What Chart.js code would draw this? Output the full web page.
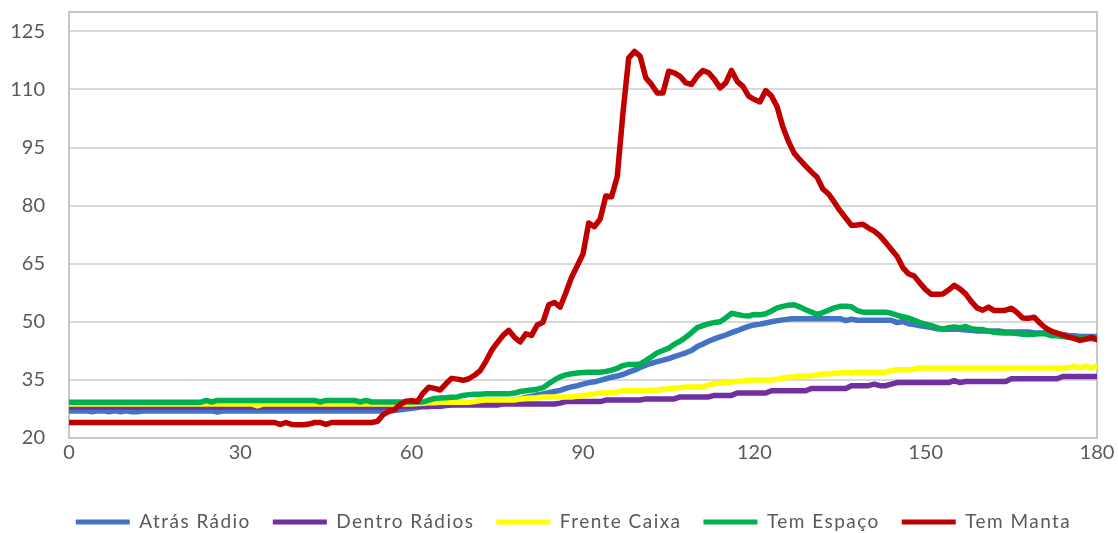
<!DOCTYPE html>
<html>
<head>
<meta charset="utf-8">
<script src="https://cdn.jsdelivr.net/npm/chart.js@4"></script>
<style>
  html, body { margin: 0; padding: 0; background: #ffffff; }
  #wrap { width: 1118px; height: 533px; }
</style>
</head>
<body>
<div id="wrap"><canvas id="chart" width="1118" height="533"></canvas></div>
<script>
// Sample times (minutes), one reading per minute
const minutes = Array.from({ length: 181 }, (_, i) => i);
const xTicks = [0, 30, 60, 90, 120, 150, 180];
const yTicks = [20, 35, 50, 65, 80, 95, 110, 125];
const seriesNames = ['Atrás Rádio', 'Dentro Rádios', 'Frente Caixa', 'Tem Espaço', 'Tem Manta'];
const seriesColors = ['#4472C4', '#7030A0', '#FFFF00', '#00B050', '#C00000'];

const atrasRadio = [
  27, 27, 27, 27, 26.8, 27, 27, 26.8, 27, 26.8,
  27, 26.8, 26.8, 27, 27, 27, 27, 27, 27, 27,
  27, 27, 27, 27, 27, 27, 26.7, 27, 27, 27,
  27, 27, 27, 27, 27, 27, 27, 27, 27, 27,
  27, 27, 27, 27, 27, 27, 27, 27, 27, 27,
  27, 27, 27, 27, 27, 27, 27, 27.1, 27.3, 27.5,
  27.7, 27.9, 28.1, 28.1, 28.2, 28.2, 28.4, 28.6, 28.7, 28.9,
  28.9, 28.9, 28.9, 29.0, 29.1, 29.3, 29.5, 29.6, 29.9, 30.1,
  30.5, 30.8, 31.1, 31.4, 31.7, 32.0, 32.3, 32.8, 33.2, 33.5,
  33.9, 34.3, 34.5, 34.9, 35.3, 35.7, 36.0, 36.4, 37.0, 37.5,
  38.2, 38.8, 39.3, 39.7, 40.1, 40.5, 41.0, 41.5, 42.0, 42.6,
  43.6, 44.3, 45.0, 45.6, 46.1, 46.6, 47.2, 47.7, 48.3, 48.8,
  49.2, 49.4, 49.7, 50.0, 50.3, 50.5, 50.7, 50.8, 50.8, 50.8,
  50.8, 50.8, 50.8, 50.8, 50.8, 50.8, 50.3, 50.7, 50.4, 50.4,
  50.4, 50.4, 50.4, 50.4, 50.4, 49.8, 50.1, 49.5, 49.3, 49.0,
  48.8, 48.5, 48.2, 48.1, 48.1, 48.1, 48.1, 47.9, 47.8, 47.6,
  47.6, 47.6, 47.6, 47.6, 47.4, 47.4, 47.4, 47.4, 47.4, 47.1,
  47.1, 47.1, 46.9, 46.8, 46.7, 46.5, 46.4, 46.2, 46.2, 46.2, 46.2
];

const dentroRadios = [
  28, 28, 28, 28, 28, 28, 28, 28, 28, 28,
  28, 28, 28, 28, 28, 28, 28, 28, 28, 28,
  28, 28, 28, 28, 28, 28, 28, 28, 28, 28,
  28, 28, 28, 28, 28, 28, 28, 28, 28, 28,
  28, 28, 28, 28, 28, 28, 28, 28, 28, 28,
  28, 28, 28, 28, 28, 28, 28.2, 28.2, 28.2, 28.2,
  28.2, 28.2, 28.2, 28.2, 28.2, 28.2, 28.5, 28.5, 28.5, 28.5,
  28.5, 28.5, 28.5, 28.5, 28.5, 28.5, 28.8, 28.8, 28.8, 28.8,
  28.8, 28.8, 28.8, 28.8, 28.8, 28.8, 29.0, 29.4, 29.4, 29.4,
  29.4, 29.4, 29.4, 29.4, 29.8, 29.8, 29.8, 29.8, 29.8, 29.8,
  29.8, 30.1, 30.1, 30.1, 30.1, 30.1, 30.1, 30.6, 30.6, 30.6,
  30.6, 30.6, 30.6, 31.0, 31.0, 31.0, 31.0, 31.6, 31.6, 31.6,
  31.6, 31.6, 31.6, 32.2, 32.2, 32.2, 32.2, 32.2, 32.2, 32.2,
  32.8, 32.8, 32.8, 32.8, 32.8, 32.8, 32.8, 33.5, 33.5, 33.5,
  33.5, 33.9, 33.5, 33.5, 33.9, 34.3, 34.3, 34.3, 34.3, 34.3,
  34.3, 34.3, 34.3, 34.3, 34.3, 34.8, 34.3, 34.6, 34.6, 34.6,
  34.6, 34.6, 34.6, 34.6, 34.6, 35.3, 35.3, 35.3, 35.3, 35.3,
  35.3, 35.3, 35.3, 35.3, 35.9, 35.9, 35.9, 35.9, 35.9, 35.9, 35.9
];

const frenteCaixa = [
  28.8, 28.8, 28.8, 28.8, 28.8, 28.8, 28.8, 28.8, 28.8, 28.8,
  28.8, 28.8, 28.8, 28.8, 28.8, 28.8, 28.8, 28.8, 28.8, 28.8,
  28.8, 28.8, 28.8, 28.8, 28.8, 28.8, 28.8, 28.8, 28.8, 28.8,
  28.8, 28.8, 28.8, 28.3, 28.8, 28.8, 28.8, 28.8, 28.8, 28.8,
  28.8, 28.8, 28.8, 28.8, 28.8, 28.8, 28.8, 28.8, 28.8, 28.8,
  28.8, 28.8, 28.8, 28.8, 28.8, 28.8, 28.8, 28.8, 28.8, 28.8,
  28.8, 28.9, 29.0, 29.1, 29.1, 29.2, 29.2, 29.2, 29.2, 29.2,
  29.2, 29.4, 29.7, 29.8, 29.8, 29.8, 29.8, 29.8, 29.8, 30.1,
  30.2, 30.3, 30.4, 30.6, 30.6, 30.6, 30.6, 30.6, 30.6, 30.8,
  31.0, 31.2, 31.4, 31.6, 31.7, 31.7, 31.9, 32.2, 32.2, 32.2,
  32.2, 32.2, 32.3, 32.4, 32.6, 32.7, 32.9, 33.0, 33.2, 33.2,
  33.2, 33.2, 33.7, 34.0, 34.2, 34.3, 34.5, 34.6, 34.7, 34.9,
  35.0, 35.0, 35.0, 35.0, 35.2, 35.5, 35.7, 35.8, 36.0, 36.0,
  36.1, 36.3, 36.5, 36.6, 36.7, 36.8, 36.9, 36.8, 37.0, 37.0,
  37.0, 37.0, 37.0, 37.0, 37.4, 37.6, 37.6, 37.6, 37.8, 38.1,
  38.1, 38.1, 38.1, 38.1, 38.1, 38.1, 38.1, 38.1, 38.1, 38.1,
  38.1, 38.1, 38.1, 38.1, 38.1, 38.1, 38.1, 38.1, 38.1, 38.1,
  38.1, 38.1, 38.1, 38.1, 38.1, 38.2, 38.5, 38.1, 38.5, 38.1, 38.6
];

const temEspaco = [
  29.2, 29.2, 29.2, 29.2, 29.2, 29.2, 29.2, 29.2, 29.2, 29.2,
  29.2, 29.2, 29.2, 29.2, 29.2, 29.2, 29.2, 29.2, 29.2, 29.2,
  29.2, 29.2, 29.2, 29.2, 29.7, 29.3, 29.7, 29.7, 29.7, 29.7,
  29.7, 29.7, 29.7, 29.7, 29.7, 29.7, 29.7, 29.7, 29.7, 29.7,
  29.7, 29.7, 29.7, 29.7, 29.3, 29.7, 29.7, 29.7, 29.7, 29.7,
  29.7, 29.3, 29.7, 29.3, 29.3, 29.3, 29.3, 29.3, 29.3, 29.3,
  29.3, 29.3, 29.3, 29.8, 30.2, 30.3, 30.4, 30.5, 30.6, 31.0,
  31.2, 31.3, 31.3, 31.4, 31.4, 31.4, 31.4, 31.4, 31.6, 32.0,
  32.2, 32.4, 32.6, 33.0, 34.0, 35.0, 35.8, 36.3, 36.6, 36.8,
  36.9, 37.0, 37.0, 37.0, 37.2, 37.5, 38.0, 38.7, 39.0, 39.0,
  39.1, 40.0, 41.0, 42.0, 42.6, 43.2, 44.2, 45.0, 46.0, 47.2,
  48.5, 49.0, 49.5, 49.8, 50.0, 51.0, 52.2, 51.9, 51.6, 51.5,
  51.9, 51.8, 52.1, 52.8, 53.6, 54.0, 54.3, 54.4, 53.8, 53.1,
  52.5, 51.9, 52.4, 53.0, 53.6, 54.0, 54.0, 53.9, 52.9, 52.5,
  52.5, 52.5, 52.5, 52.5, 52.2, 51.7, 51.3, 51.0, 50.4, 49.8,
  49.4, 49.0, 48.5, 48.1, 48.5, 48.7, 48.4, 48.8, 48.2, 48.0,
  48.0, 47.6, 47.3, 47.2, 47.1, 47.1, 47.0, 46.8, 46.7, 46.8,
  47.0, 46.9, 46.4, 46.4, 46.2, 46.0, 45.9, 45.8, 45.6, 45.6, 45.6
];

const temManta = [
  24, 24, 24, 24, 24, 24, 24, 24, 24, 24,
  24, 24, 24, 24, 24, 24, 24, 24, 24, 24,
  24, 24, 24, 24, 24, 24, 24, 24, 24, 24,
  24, 24, 24, 24, 24, 24, 24, 23.5, 24, 23.5,
  23.4, 23.4, 23.6, 24, 24, 23.5, 24, 24, 24, 24,
  24, 24, 24, 24, 24.3, 26.0, 26.9, 27.4, 28.6, 29.5,
  29.6, 29.4, 31.6, 33.1, 32.8, 32.4, 34.0, 35.4, 35.2, 34.9,
  35.3, 36.2, 37.4, 39.8, 42.6, 44.6, 46.5, 47.8, 46.0, 44.8,
  46.9, 46.5, 49.2, 49.9, 54.4, 55.0, 53.8, 57.5, 61.5, 64.5,
  67.5, 75.5, 74.6, 76.5, 82.5, 82.3, 87.5, 104.0, 118.1, 119.8,
  118.6, 113.0, 111.3, 109.1, 109.1, 114.7, 114.3, 113.4, 111.7, 111.3,
  113.4, 114.9, 114.3, 112.6, 110.4, 111.7, 114.9, 112.1, 110.8, 108.3,
  107.4, 106.8, 109.7, 108.3, 105.5, 100.3, 96.5, 93.5, 91.8, 90.2,
  88.7, 87.3, 84.3, 83.0, 80.9, 78.7, 76.8, 74.9, 75.0, 75.2,
  74.2, 73.4, 72.2, 70.5, 68.7, 66.9, 64.0, 62.4, 61.8, 60.0,
  58.3, 57.1, 57.1, 57.2, 58.2, 59.4, 58.5, 57.2, 55.2, 53.6,
  53.0, 53.8, 52.9, 52.9, 53.0, 53.5, 52.4, 51.0, 50.9, 51.2,
  49.7, 48.4, 47.6, 47.1, 46.6, 46.1, 45.7, 45.2, 45.5, 46.0, 45.4
];

const seriesValues = [atrasRadio, dentroRadios, frenteCaixa, temEspaco, temManta];

const textColor = '#595959';
const tickFont = { family: 'Lato', size: 20 };
const legendFont = { family: 'Lato', size: 19 };
const legendLetterSpacing = '1.45px';
const legendShiftX = 25;

// Draws the grey frame around the whole plot area
const plotFrame = {
  id: 'plotFrame',
  beforeDatasetsDraw(chart) {
    const { ctx, chartArea: a } = chart;
    ctx.save();
    ctx.strokeStyle = '#c8c8c8';
    ctx.lineWidth = 2;
    ctx.strokeRect(a.left, a.top, a.right - a.left, a.bottom - a.top);
    ctx.restore();
  }
};

// Wider letter spacing for the legend text, and legend centred under the plot
const legendSpacing = {
  id: 'legendSpacing',
  afterInit(chart) {
    const lg = chart.legend;
    if (!lg) return;
    ['fit', 'draw'].forEach((fn) => {
      const orig = lg[fn];
      lg[fn] = function (...args) {
        const ctx = this.ctx;
        const prev = ctx.letterSpacing;
        ctx.letterSpacing = legendLetterSpacing;
        const r = orig.apply(this, args);
        ctx.letterSpacing = prev || '0px';
        return r;
      };
    });
  },
  afterLayout(chart) {
    const lg = chart.legend;
    if (!lg) return;
    lg.left += legendShiftX;
    lg.right += legendShiftX;
  }
};

const datasets = seriesNames.map((name, i) => ({
  label: name,
  data: minutes.map((m, k) => ({ x: m, y: seriesValues[i][k] })),
  borderColor: seriesColors[i],
  backgroundColor: seriesColors[i],
  borderWidth: 5.5,
  pointRadius: 0,
  tension: 0,
  borderJoinStyle: 'round',
  borderCapStyle: 'round',
  order: seriesNames.length - i
}));

new Chart(document.getElementById('chart'), {
  type: 'line',
  data: { datasets },
  plugins: [plotFrame, legendSpacing],
  options: {
    responsive: false,
    animation: false,
    devicePixelRatio: 1,
    layout: { padding: { top: 12, right: 21, left: 0, bottom: -8.5 } },
    plugins: {
      tooltip: { enabled: false },
      legend: {
        position: 'bottom',
        labels: {
          font: legendFont,
          color: textColor,
          boxWidth: 54,
          boxHeight: 5,
          padding: 22,
          sort: (a, b) => a.datasetIndex - b.datasetIndex,
          generateLabels: (chart) =>
            Chart.defaults.plugins.legend.labels.generateLabels(chart).map((l) =>
              Object.assign(l, { lineWidth: 0, fillStyle: l.strokeStyle }))
        }
      }
    },
    scales: {
      x: {
        type: 'linear',
        min: 0,
        max: 180,
        afterBuildTicks: (s) => { s.ticks = xTicks.map((v) => ({ value: v })); },
        afterFit: (s) => { s.height = 52.5; s.paddingLeft = 0; s.paddingRight = 0; },
        grid: { display: false, drawTicks: false },
        border: { display: true, color: '#c8c8c8', width: 2 },
        ticks: { font: tickFont, color: textColor, padding: 3, maxRotation: 0, autoSkip: false }
      },
      y: {
        type: 'linear',
        min: 20,
        max: 130,
        afterBuildTicks: (s) => { s.ticks = yTicks.map((v) => ({ value: v })); },
        afterFit: (s) => { s.width = 69; s.paddingTop = 0; s.paddingBottom = 0; },
        grid: { color: '#d9d9d9', lineWidth: 2, drawTicks: false },
        border: { display: true, color: '#c8c8c8', width: 2 },
        ticks: { font: tickFont, color: textColor, padding: 24, autoSkip: false }
      }
    }
  }
});
</script>
</body>
</html>
